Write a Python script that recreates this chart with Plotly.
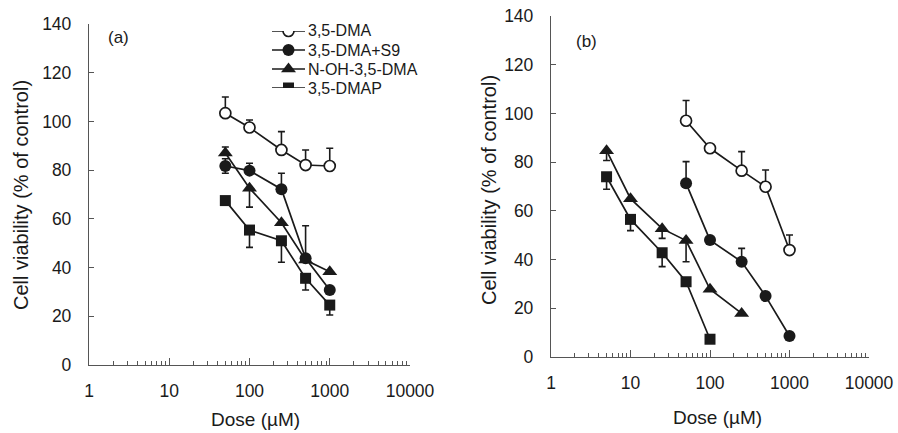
import plotly.graph_objects as go

# ---------------- data ----------------
series_names = ["3,5-DMA", "3,5-DMA+S9", "N-OH-3,5-DMA", "3,5-DMAP"]

# panel (a)
dose_a = [50, 100, 250, 500, 1000]
dma_a = [103.4, 97.5, 88.3, 82.1, 81.7]
dma_a_up = [6.6, 3.1, 7.5, 6.2, 7.3]
dma_a_dn = [0, 0, 0, 0, 0]
s9_a = [81.7, 79.8, 72.2, 43.8, 30.8]
s9_a_up = [3, 3, 6.5, 13.4, 0]
s9_a_dn = [3, 0, 0, 0, 0]
noh_a = [87.0, 72.6, 58.4, 43.1, 38.3]
noh_a_up = [2.5, 0, 0, 0, 0]
noh_a_dn = [0, 7.8, 0, 0, 0]
dmap_a = [67.5, 55.4, 51.0, 35.6, 24.6]
dmap_a_up = [0, 0, 0, 0, 0]
dmap_a_dn = [0, 7.1, 8.8, 4.8, 4.1]

# panel (b)
dose_b_dma = [50, 100, 250, 500, 1000]
dma_b = [97.0, 85.7, 76.5, 69.9, 43.9]
dma_b_up = [8.3, 0, 7.8, 6.9, 6.2]
dma_b_dn = [0, 0, 0, 0, 0]
s9_b = [71.3, 48.0, 39.1, 25.0, 8.6]
s9_b_up = [8.9, 0, 5.5, 0, 0]
s9_b_dn = [0, 0, 0, 0, 0]
dose_b_noh = [5, 10, 25, 50, 100, 250]
noh_b = [84.7, 65.0, 52.7, 47.8, 27.8, 17.9]
noh_b_up = [0, 0, 0, 0, 0, 0]
noh_b_dn = [4, 0, 4, 8.7, 0, 0]
dose_b_dmap = [5, 10, 25, 50, 100]
dmap_b = [74.0, 56.5, 42.8, 30.9, 7.3]
dmap_b_up = [0, 0, 0, 0, 0]
dmap_b_dn = [5.1, 4.6, 5.7, 0, 0]

x_tickvals = [1, 10, 100, 1000, 10000]
x_ticktext = ["1", "10", "100", "1000", "10000"]

# ---------------- styles ----------------
INK = "#1a1a1a"
AX = "#555555"
FONT = "Arial, Liberation Sans, sans-serif"
marker_styles = [
    dict(symbol="circle", size=11, color="white", line=dict(color=INK, width=1.7)),
    dict(symbol="circle", size=12, color=INK, line=dict(color=INK, width=0)),
    dict(symbol="triangle-up", size=13, color=INK, line=dict(color=INK, width=0)),
    dict(symbol="square", size=11, color=INK, line=dict(color=INK, width=0)),
]

fig = go.Figure()


def add_series(x, y, up, dn, idx, xa, ya):
    fig.add_trace(go.Scatter(
        x=x, y=y, mode="lines+markers", xaxis=xa, yaxis=ya,
        line=dict(color=INK, width=1.7),
        marker=marker_styles[idx],
        error_y=dict(type="data", symmetric=False, array=up, arrayminus=dn,
                     color=INK, thickness=1.6, width=3.5),
        showlegend=False, name=series_names[idx],
    ))


panel_a = [(dose_a, dma_a, dma_a_up, dma_a_dn), (dose_a, s9_a, s9_a_up, s9_a_dn),
           (dose_a, noh_a, noh_a_up, noh_a_dn), (dose_a, dmap_a, dmap_a_up, dmap_a_dn)]
panel_b = [(dose_b_dma, dma_b, dma_b_up, dma_b_dn), (dose_b_dma, s9_b, s9_b_up, s9_b_dn),
           (dose_b_noh, noh_b, noh_b_up, noh_b_dn), (dose_b_dmap, dmap_b, dmap_b_up, dmap_b_dn)]

for i in [3, 2, 1, 0]:
    add_series(*panel_a[i], i, "x", "y")
    add_series(*panel_b[i], i, "x2", "y2")

# legend drawn on a small hidden axis pair
for i, name in enumerate(series_names):
    fig.add_trace(go.Scatter(x=[0, 1], y=[i, i], mode="lines", xaxis="x3", yaxis="y3",
                             line=dict(color=INK, width=1.7), showlegend=False, hoverinfo="skip"))
    fig.add_trace(go.Scatter(x=[0.5], y=[i], mode="markers", xaxis="x3", yaxis="y3",
                             marker=marker_styles[i], showlegend=False, hoverinfo="skip"))

W, H = 898, 433

def px(v):
    return v / W

def py(v):
    return (H - v) / H

xcommon = dict(type="log", range=[0, 4], tickvals=x_tickvals, ticktext=x_ticktext,
               ticks="inside", ticklen=7, tickwidth=1.2, tickcolor=AX,
               minor=dict(ticks="inside", ticklen=4, tickwidth=1, tickcolor=AX, dtick="D1", showgrid=False),
               showline=True, linecolor=AX, linewidth=1.3, showgrid=False, zeroline=False,
               automargin=False,
               tickfont=dict(size=17.5, color=INK, family=FONT), ticklabelstandoff=10)
ycommon = dict(range=[0, 140], tickvals=[0, 20, 40, 60, 80, 100, 120, 140],
               ticks="inside", ticklen=5, tickwidth=1.2, tickcolor=AX,
               showline=True, linecolor=AX, linewidth=1.3, showgrid=False, zeroline=False,
               automargin=False,
               tickfont=dict(size=17.5, color=INK, family=FONT), ticklabelstandoff=13)

fig.update_layout(
    template="none",
    width=W, height=H,
    margin=dict(l=0, r=0, t=0, b=0, autoexpand=False),
    paper_bgcolor="white", plot_bgcolor="white",
    font=dict(family=FONT, color=INK),
    showlegend=False,
    xaxis=dict(domain=[px(89), px(410)], anchor="y", **xcommon),
    yaxis=dict(domain=[py(365), py(24)], anchor="x", **ycommon),
    xaxis2=dict(domain=[px(551), px(869)], anchor="y2", **xcommon),
    yaxis2=dict(domain=[py(357), py(16)], anchor="x2", **ycommon),
    xaxis3=dict(domain=[px(272), px(305)], anchor="y3", range=[0, 1], visible=False),
    yaxis3=dict(domain=[py(88), py(31)], anchor="x3", range=[3, 0], visible=False),
)

annotations = []
for i, name in enumerate(series_names):
    annotations.append(dict(x=1, y=i, xref="x3", yref="y3", text=name, showarrow=False,
                            xanchor="left", yanchor="middle", xshift=1,
                            font=dict(size=16, color=INK, family=FONT)))
annotations += [
    dict(x=px(106), y=py(38), xref="paper", yref="paper", text="(a)", showarrow=False,
         xanchor="left", yanchor="middle", font=dict(size=17, color=INK, family=FONT)),
    dict(x=px(574), y=py(42), xref="paper", yref="paper", text="(b)", showarrow=False,
         xanchor="left", yanchor="middle", font=dict(size=17, color=INK, family=FONT)),
    dict(x=px(255), y=py(419), xref="paper", yref="paper", text="Dose (µM)", showarrow=False,
         xanchor="center", yanchor="middle", font=dict(size=19, color=INK, family=FONT)),
    dict(x=px(717), y=py(417), xref="paper", yref="paper", text="Dose (µM)", showarrow=False,
         xanchor="center", yanchor="middle", font=dict(size=19, color=INK, family=FONT)),
    dict(x=px(21), y=py(195), xref="paper", yref="paper", text="Cell viability (% of control)",
         showarrow=False, textangle=-90, xanchor="center", yanchor="middle",
         font=dict(size=20, color=INK, family=FONT)),
    dict(x=px(489), y=py(190), xref="paper", yref="paper", text="Cell viability (% of control)",
         showarrow=False, textangle=-90, xanchor="center", yanchor="middle",
         font=dict(size=20, color=INK, family=FONT)),
]
fig.update_layout(annotations=annotations)

fig.write_html(
    "out.html",
    config={"displayModeBar": False},
    post_script="document.body.style.margin='0';document.body.style.padding='0';",
)
